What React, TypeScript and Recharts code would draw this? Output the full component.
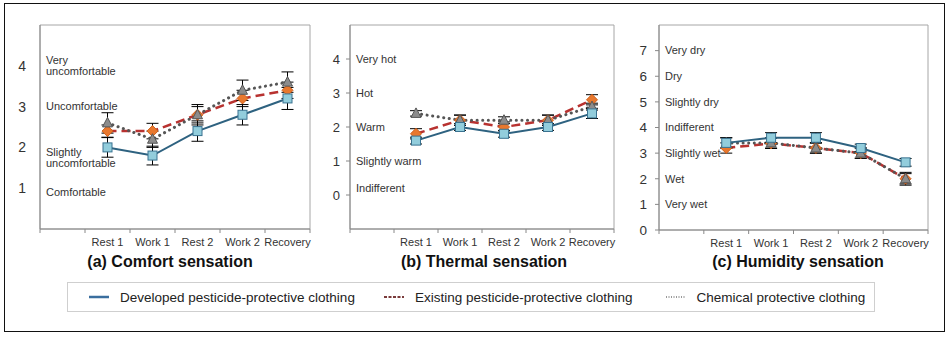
import React from "react";
import { LineChart, Line, XAxis, YAxis, ErrorBar, ReferenceLine, ReferenceArea } from "recharts";

const categories = ["Rest 1", "Work 1", "Rest 2", "Work 2", "Recovery"];
const seriesNames = [
  "Developed pesticide-protective clothing",
  "Existing pesticide-protective clothing",
  "Chemical protective clothing",
];

// (a) Comfort sensation
const comfortDeveloped = [2.0, 1.8, 2.4, 2.8, 3.2];
const comfortDevelopedErr = [0.24, 0.23, 0.25, 0.25, 0.27];
const comfortExisting = [2.4, 2.4, 2.8, 3.2, 3.4];
const comfortExistingErr = [0.15, 0.19, 0.2, 0.2, 0.2];
const comfortChemical = [2.6, 2.2, 2.8, 3.4, 3.6];
const comfortChemicalErr = [0.25, 0.2, 0.25, 0.25, 0.25];
const comfortTicks = [1, 2, 3, 4];
const comfortDomain = [0, 5];
const comfortDesc = [
  { v: 4, t: ["Very", "uncomfortable"] },
  { v: 3, t: ["Uncomfortable"] },
  { v: 1.75, t: ["Slightly", "uncomfortable"] },
  { v: 0.9, t: ["Comfortable"] },
];

// (b) Thermal sensation
const thermalDeveloped = [1.6, 2.0, 1.8, 2.0, 2.4];
const thermalDevelopedErr = [0.1, 0.1, 0.1, 0.1, 0.15];
const thermalExisting = [1.8, 2.2, 2.0, 2.2, 2.8];
const thermalExistingErr = [0.15, 0.15, 0.15, 0.15, 0.15];
const thermalChemical = [2.4, 2.2, 2.2, 2.2, 2.6];
const thermalChemicalErr = [0.08, 0.15, 0.1, 0.15, 0.1];
const thermalTicks = [0, 1, 2, 3, 4];
const thermalDomain = [-1, 5];
const thermalDesc = [
  { v: 4, t: ["Very hot"] },
  { v: 3, t: ["Hot"] },
  { v: 2, t: ["Warm"] },
  { v: 1, t: ["Slightly warm"] },
  { v: 0.2, t: ["Indifferent"] },
];

// (c) Humidity sensation
const humidityDeveloped = [3.4, 3.6, 3.6, 3.2, 2.64];
const humidityDevelopedErr = [0.2, 0.2, 0.2, 0.15, 0.15];
const humidityExisting = [3.2, 3.38, 3.2, 3.0, 2.0];
const humidityExistingErr = [0.2, 0.2, 0.2, 0.2, 0.2];
const humidityChemical = [3.4, 3.4, 3.2, 3.0, 2.0];
const humidityChemicalErr = [0.2, 0.2, 0.2, 0.2, 0.25];
const humidityTicks = [0, 1, 2, 3, 4, 5, 6, 7];
const humidityDomain = [0, 8];
const humidityDesc = [
  { v: 7, t: ["Very dry"] },
  { v: 6, t: ["Dry"] },
  { v: 5, t: ["Slightly dry"] },
  { v: 4, t: ["Indifferent"] },
  { v: 3, t: ["Slightly wet"] },
  { v: 2, t: ["Wet"] },
  { v: 1, t: ["Very wet"] },
];

const FONT = "'Liberation Sans', Arial, sans-serif";

function buildRows(dev, devE, ex, exE, ch, chE) {
  const rows = [{ cat: "", dev: null, devE: 0, ex: null, exE: 0, ch: null, chE: 0 }];
  categories.forEach((c, i) => {
    rows.push({ cat: c, dev: dev[i], devE: devE[i], ex: ex[i], exE: exE[i], ch: ch[i], chE: chE[i] });
  });
  return rows;
}

const SquareDot = (p) => {
  const { cx, cy, key } = p;
  if (cx == null || cy == null || p.value == null) return <g key={key} />;
  return <rect key={key} x={cx - 4.5} y={cy - 4.5} width={9} height={9} fill="#92CDDC" stroke="#3A7391" strokeWidth={1} />;
};
const DiamondDot = (p) => {
  const { cx, cy, key } = p;
  if (cx == null || cy == null || p.value == null) return <g key={key} />;
  const r = 5.5;
  return (
    <polygon key={key} points={`${cx},${cy - r} ${cx + r},${cy} ${cx},${cy + r} ${cx - r},${cy}`} fill="#E8782E" stroke="#D0601A" strokeWidth={1} />
  );
};
const TriangleDot = (p) => {
  const { cx, cy, key } = p;
  if (cx == null || cy == null || p.value == null) return <g key={key} />;
  return (
    <polygon key={key} points={`${cx},${cy - 5.5} ${cx + 5},${cy + 4} ${cx - 5},${cy + 4}`} fill="#8C8C8C" stroke="#555" strokeWidth={1} />
  );
};

function makeXTick(band) {
  return (props) => {
    const { x, y, payload, index } = props;
    const last = index === categories.length;
    return (
      <g>
        <line x1={x - band / 2} x2={x - band / 2} y1={y} y2={y + 4} stroke="#888" />
        {last && <line x1={x + band / 2} x2={x + band / 2} y1={y} y2={y + 4} stroke="#888" />}
        <text x={x} y={y + 17} textAnchor="middle" fontSize={11} fill="#333" fontFamily={FONT}>
          {payload.value}
        </text>
      </g>
    );
  };
}

function descLabel(lines) {
  return (props) => {
    const vb = props.viewBox || {};
    const n = lines.length;
    const lh = 11.5;
    return (
      <text x={vb.x + 6} y={vb.y} fontSize={11} fill="#333" fontFamily={FONT}>
        {lines.map((l, i) => (
          <tspan key={i} x={vb.x + 6} y={vb.y + (i - (n - 1) / 2) * lh} dy="0.35em">
            {l}
          </tspan>
        ))}
      </text>
    );
  };
}

function Panel({ cfg }) {
  const plotW = cfg.width - cfg.yWidth - 10;
  const band = plotW / 6;
  return (
    <div style={{ position: "absolute", left: cfg.left, top: 0 }}>
      <LineChart width={cfg.width} height={cfg.height} data={cfg.data} margin={{ top: 25, right: 10, bottom: 0, left: 0 }}>
        <XAxis
          dataKey="cat"
          scale="band"
          height={21}
          tickSize={0}
          tickMargin={0}
          tickLine={false}
          axisLine={{ stroke: "#888" }}
          interval={0}
          tick={makeXTick(band)}
        />
        <YAxis
          type="number"
          width={cfg.yWidth}
          domain={cfg.domain}
          ticks={cfg.ticks}
          allowDataOverflow
          axisLine={{ stroke: "#888" }}
          tickLine={cfg.tickLine ? { stroke: "#888" } : false}
          tickSize={cfg.tickLine ? 4 : 0}
          tickMargin={cfg.tickMargin}
          tick={{ fontSize: cfg.tickFont, fill: "#333", fontFamily: FONT }}
        />
        <ReferenceArea y1={cfg.domain[0]} y2={cfg.domain[1]} fill="none" stroke="#a6a6a6" strokeWidth={1} ifOverflow="visible" />
        {cfg.desc.map((d, i) => (
          <ReferenceLine key={i} y={d.v} stroke="none" label={descLabel(d.t)} />
        ))}
        <Line
          dataKey="ex"
          stroke="#B83230"
          strokeWidth={2.5}
          strokeDasharray="9 5"
          dot={DiamondDot}
          activeDot={false}
          isAnimationActive={false}
        >
          <ErrorBar dataKey="exE" width={6} stroke="#000" strokeWidth={1} direction="y" />
        </Line>
        <Line
          dataKey="ch"
          stroke="#555"
          strokeWidth={3}
          strokeDasharray="0.1 5.5"
          strokeLinecap="round"
          dot={TriangleDot}
          activeDot={false}
          isAnimationActive={false}
        >
          <ErrorBar dataKey="chE" width={6} stroke="#000" strokeWidth={1} direction="y" />
        </Line>
        <Line
          dataKey="dev"
          stroke="#2E6280"
          strokeWidth={2}
          dot={SquareDot}
          activeDot={false}
          isAnimationActive={false}
        >
          <ErrorBar dataKey="devE" width={6} stroke="#000" strokeWidth={1} direction="y" />
        </Line>
      </LineChart>
      <div
        style={{
          position: "absolute",
          left: cfg.titleCenter - cfg.left - 150,
          top: 253,
          width: 300,
          textAlign: "center",
          fontFamily: FONT,
          fontWeight: "bold",
          fontSize: 16,
          color: "#111",
          whiteSpace: "nowrap",
        }}
      >
        {cfg.title}
      </div>
    </div>
  );
}

const panels = [
  {
    title: "(a) Comfort sensation",
    left: 0,
    width: 320,
    height: 250,
    yWidth: 40,
    domain: comfortDomain,
    ticks: comfortTicks,
    tickLine: false,
    tickMargin: 14,
    tickFont: 14,
    titleCenter: 170,
    desc: comfortDesc,
    data: buildRows(comfortDeveloped, comfortDevelopedErr, comfortExisting, comfortExistingErr, comfortChemical, comfortChemicalErr),
  },
  {
    title: "(b) Thermal sensation",
    left: 310,
    width: 314,
    height: 250,
    yWidth: 40,
    domain: thermalDomain,
    ticks: thermalTicks,
    tickLine: true,
    tickMargin: 6,
    tickFont: 13,
    titleCenter: 484,
    desc: thermalDesc,
    data: buildRows(thermalDeveloped, thermalDevelopedErr, thermalExisting, thermalExistingErr, thermalChemical, thermalChemicalErr),
  },
  {
    title: "(c) Humidity sensation",
    left: 620,
    width: 318,
    height: 251,
    yWidth: 39,
    domain: humidityDomain,
    ticks: humidityTicks,
    tickLine: true,
    tickMargin: 8,
    tickFont: 13.5,
    titleCenter: 798,
    desc: humidityDesc,
    data: buildRows(humidityDeveloped, humidityDevelopedErr, humidityExisting, humidityExistingErr, humidityChemical, humidityChemicalErr),
  },
];

const legendStyles = [
  { stroke: "#3A6E9E", dash: undefined, width: 2.5 },
  { stroke: "#7A3B3B", dash: "3 1.5", width: 2 },
  { stroke: "#777", dash: "1 1.5", width: 1.5 },
];

function Legend3() {
  return (
    <div
      style={{
        position: "absolute",
        left: 67,
        top: 282,
        width: 808,
        height: 30,
        border: "1px solid #cfcfcf",
        boxSizing: "border-box",
        display: "flex",
        alignItems: "center",
        fontFamily: FONT,
        fontSize: 13.5,
        color: "#222",
        paddingLeft: 21,
      }}
    >
      {seriesNames.map((n, i) => (
        <div key={i} style={{ display: "flex", alignItems: "center", marginRight: i === 0 ? 29 : i === 1 ? 33 : 0 }}>
          <svg width={20} height={6} style={{ marginRight: 11 }}>
            <line x1={0} x2={20} y1={3} y2={3} stroke={legendStyles[i].stroke} strokeWidth={legendStyles[i].width} strokeDasharray={legendStyles[i].dash} />
          </svg>
          <span style={{ whiteSpace: "nowrap" }}>{n}</span>
        </div>
      ))}
    </div>
  );
}

export default function App() {
  return (
    <div style={{ position: "absolute", left: 0, top: 0, width: 949, height: 337, background: "#fff", overflow: "hidden" }}>
      <div
        style={{
          position: "absolute",
          left: 4,
          top: 3,
          width: 941,
          height: 329,
          border: "1px solid #111",
          boxSizing: "border-box",
        }}
      />
      {panels.map((p, i) => (
        <Panel key={i} cfg={p} />
      ))}
      <Legend3 />
    </div>
  );
}
